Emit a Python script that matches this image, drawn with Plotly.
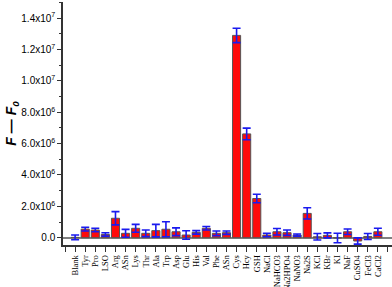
import plotly.graph_objects as go

categories = ["Blank", "Tyr", "Pro", "LSO", "Arg", "ASn", "Lys", "Thr", "Ala", "Trp",
              "Asp", "Glu", "His", "Val", "Phe", "ASn", "Cys", "Hcy", "GSH", "NaCl",
              "NaHCO3", "Na2HPO4", "NaNO3", "Na2S", "KCl", "KBr", "KI", "NaF", "CuSO4",
              "FeCl3", "CaCl2"]
values = [0.02e6, 0.55e6, 0.49e6, 0.21e6, 1.24e6, 0.28e6, 0.60e6, 0.28e6, 0.45e6, 0.54e6,
          0.38e6, 0.17e6, 0.34e6, 0.60e6, 0.28e6, 0.32e6, 12.9e6, 6.62e6, 2.5e6, 0.17e6,
          0.38e6, 0.32e6, 0.17e6, 1.55e6, 0.06e6, 0.15e6, -0.02e6, 0.38e6, -0.21e6,
          0.08e6, 0.38e6]
errors = [0.15e6, 0.12e6, 0.11e6, 0.11e6, 0.42e6, 0.25e6, 0.25e6, 0.21e6, 0.40e6, 0.48e6,
          0.25e6, 0.27e6, 0.11e6, 0.11e6, 0.15e6, 0.11e6, 0.46e6, 0.37e6, 0.27e6, 0.11e6,
          0.21e6, 0.17e6, 0.07e6, 0.36e6, 0.21e6, 0.16e6, 0.30e6, 0.18e6, 0.20e6,
          0.19e6, 0.22e6]
ytick_vals = [0, 2e6, 4e6, 6e6, 8e6, 1.0e7, 1.2e7, 1.4e7]
ytick_text = ["0.0", "2.0x10<sup>6</sup>", "4.0x10<sup>6</sup>", "6.0x10<sup>6</sup>",
              "8.0x10<sup>6</sup>", "1.0x10<sup>7</sup>", "1.2x10<sup>7</sup>",
              "1.4x10<sup>7</sup>"]

xpos = list(range(len(categories)))
xtick_vals = [-1] + xpos + [len(categories)]
xtick_text = [""] + categories + [""]

fig = go.Figure()
fig.add_trace(go.Bar(
    x=xpos, y=values, width=0.8,
    marker=dict(color="#ff0a0a", line=dict(color="#555555", width=1)),
    error_y=dict(type="data", array=errors, visible=True, color="#1a1aee",
                 thickness=1.6, width=4),
))

fig.update_layout(
    width=392, height=287,
    margin=dict(l=63, r=0, t=2, b=42),
    plot_bgcolor="white", paper_bgcolor="white",
    showlegend=False, bargap=0.2,
    xaxis=dict(range=[-1.2, 31.4], tickmode="array", tickvals=xtick_vals,
               ticktext=xtick_text, tickangle=-90, showgrid=False, zeroline=False,
               automargin=False,
               showline=True, linecolor="#333333", linewidth=1.5,
               ticks="outside", ticklen=5, tickwidth=1, tickcolor="#333333",
               tickfont=dict(family="Liberation Serif", size=8.5, color="black")),
    yaxis=dict(range=[-0.465e6, 1.503e7], tickmode="array", tickvals=ytick_vals,
               ticktext=ytick_text, showgrid=False, automargin=False,
               zeroline=True, zerolinecolor="#808080", zerolinewidth=2,
               showline=True, linecolor="#333333", linewidth=1.5,
               ticks="outside", ticklen=4, tickwidth=1, tickcolor="#333333",
               minor=dict(ticks="outside", ticklen=2.5, dtick=1e6, tickcolor="#333333",
                          showgrid=False, tick0=0),
               tickfont=dict(family="Liberation Sans", size=10, color="black"),
               title=dict(text="<b><i>F — F<sub>0</sub></i></b>", standoff=0,
                          font=dict(family="Liberation Sans", size=14, color="black"))),
)

fig.write_html("out.html", config={"displayModeBar": False},
               post_script="document.body.style.margin='0';document.body.style.overflow='hidden';")
